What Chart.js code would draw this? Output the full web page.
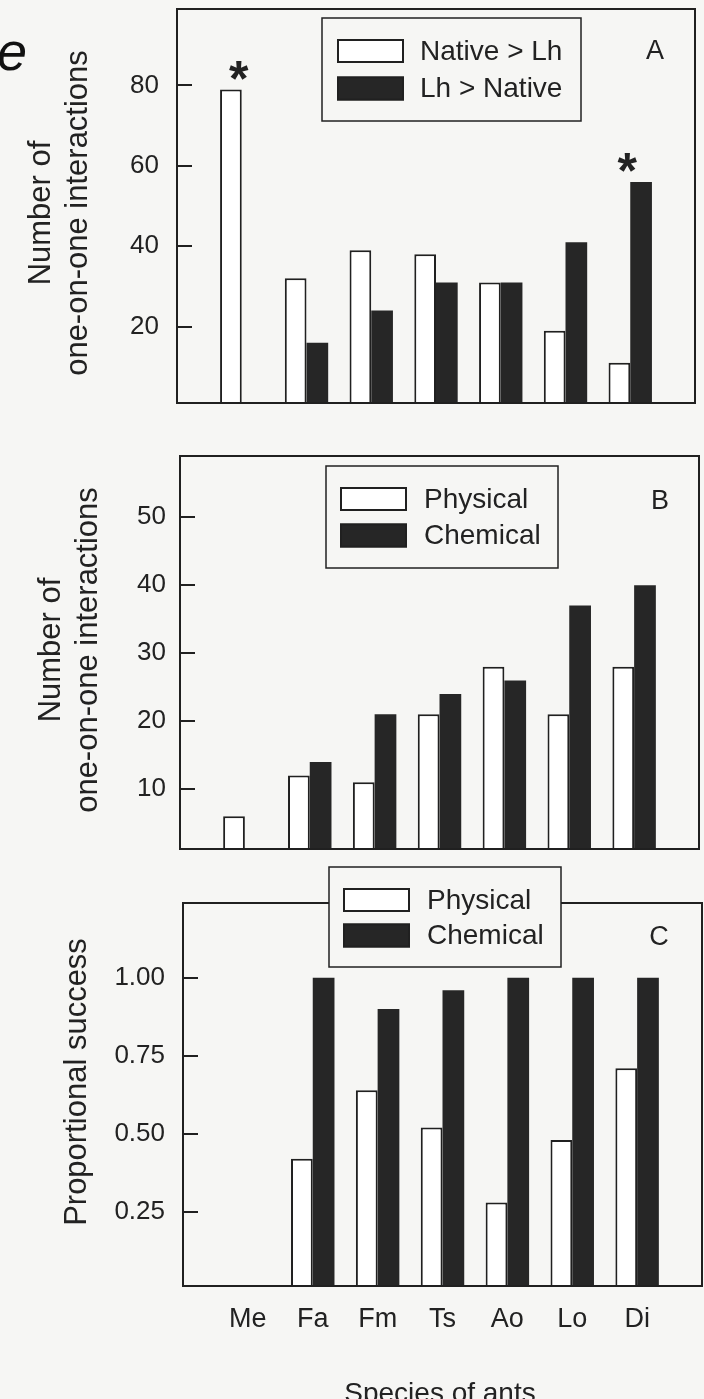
<!DOCTYPE html>
<html><head><meta charset="utf-8">
<script src="https://cdn.jsdelivr.net/npm/chart.js@4.4.0/dist/chart.umd.min.js"></script>
<style>
html,body{margin:0;padding:0;background:#f6f6f4;}
body{width:704px;height:1399px;position:relative;overflow:hidden;}
canvas{position:absolute;left:0;display:block;}
</style></head><body>
<canvas id="cA" width="704" height="440" style="top:0"></canvas>
<canvas id="cB" width="704" height="420" style="top:440px"></canvas>
<canvas id="cC" width="704" height="539" style="top:860px"></canvas>
<script>
// ---- data ----
const categories = ['Me','Fa','Fm','Ts','Ao','Lo','Di'];
const nativeOverLh = [79, 32, 39, 38, 31, 19, 11];
const lhOverNative = [null, 16, 24, 31, 31, 41, 56];
const significantA = [true, false, false, false, false, false, true];
const physicalCount = [6, 12, 11, 21, 28, 21, 28];
const chemicalCount = [null, 14, 21, 24, 26, 37, 40];
const physicalSuccess = [null, 0.42, 0.64, 0.52, 0.28, 0.48, 0.71];
const chemicalSuccess = [null, 1.00, 0.90, 0.96, 1.00, 1.00, 1.00];
const yTicksA = [20, 40, 60, 80];
const yTicksB = [10, 20, 30, 40, 50];
const yTicksC = [0.25, 0.50, 0.75, 1.00];
const legendA = ['Native > Lh', 'Lh > Native'];
const legendBC = ['Physical', 'Chemical'];
const yTitleA = ['Number of', 'one-on-one interactions'];
const yTitleB = ['Number of', 'one-on-one interactions'];
const yTitleC = ['Proportional success'];
const xTitle = 'Species of ants';

// ---- style ----
const BG = '#f6f6f4', INK = '#202020', TXT = '#222222', DARK = '#262626';
const FONT = '"Liberation Sans", Arial, Helvetica, sans-serif';

const labels = ['', ...categories, ''];
const pad = arr => [null, ...arr, null];
const noPad = s => { s.paddingTop = 0; s.paddingBottom = 0; s.paddingLeft = 0; s.paddingRight = 0; };

const panelPlugin = {
  id: 'panel',
  afterDatasetsDraw(chart, args, o) {
    const {ctx, chartArea: a} = chart;
    const ys = chart.scales.y, xs = chart.scales.x;
    ctx.save();
    // frame
    ctx.strokeStyle = INK; ctx.lineWidth = 2;
    ctx.strokeRect(a.left, a.top, a.right - a.left, a.bottom - a.top);
    // inward ticks
    ys.ticks.forEach(t => {
      const py = Math.round(ys.getPixelForValue(t.value));
      ctx.beginPath(); ctx.moveTo(a.left, py); ctx.lineTo(a.left + o.tickLen, py); ctx.stroke();
    });
    // significance marks
    if (o.marks) {
      ctx.fillStyle = TXT;
      ctx.font = 'bold 50px ' + FONT;
      ctx.textAlign = 'center'; ctx.textBaseline = 'alphabetic';
      const m = ctx.measureText('*');
      o.marks.forEach((on, i) => {
        if (!on) return;
        const vals = chart.data.datasets.map(d => d.data[i + 1]).filter(v => v != null);
        const top = ys.getPixelForValue(Math.max(...vals));
        const cx = xs.getPixelForValue(i + 1) - 3;
        const cy = top - 19;
        const base = cy + (m.actualBoundingBoxAscent - m.actualBoundingBoxDescent) / 2;
        ctx.fillText('*', cx, base);
      });
    }
    // legend
    const L = o.legend;
    ctx.fillStyle = BG;
    ctx.fillRect(L.box[0], L.box[1], L.box[2] - L.box[0], L.box[3] - L.box[1]);
    ctx.lineWidth = 1.5; ctx.strokeStyle = INK;
    ctx.strokeRect(L.box[0], L.box[1], L.box[2] - L.box[0], L.box[3] - L.box[1]);
    ctx.font = '28px ' + FONT; ctx.textAlign = 'left'; ctx.textBaseline = 'middle';
    chart.data.datasets.forEach((d, i) => {
      const yy = L.rows[i];
      ctx.fillStyle = d.backgroundColor;
      ctx.fillRect(L.swatchX, yy - 12, 67, 24);
      ctx.lineWidth = 2; ctx.strokeStyle = INK;
      ctx.strokeRect(L.swatchX + 1, yy - 11, 65, 22);
      ctx.fillStyle = TXT;
      ctx.fillText(d.label, L.textX, yy + 1);
    });
    // panel letter
    ctx.font = '27px ' + FONT; ctx.textAlign = 'center'; ctx.textBaseline = 'middle';
    ctx.fillStyle = TXT;
    ctx.fillText(o.letter[0], o.letter[1], o.letter[2]);
    // y title
    ctx.font = '31px ' + FONT;
    o.yTitle.text.forEach((line, i) => {
      ctx.save();
      ctx.translate(o.yTitle.x[i], o.yTitle.cy);
      ctx.rotate(-Math.PI / 2);
      ctx.textAlign = 'center'; ctx.textBaseline = 'middle';
      ctx.fillText(line, 0, 0);
      ctx.restore();
    });
    // x title
    if (o.xTitle) {
      ctx.font = '28px ' + FONT; ctx.textAlign = 'center'; ctx.textBaseline = 'alphabetic';
      ctx.fillText(o.xTitle.text, o.xTitle.x, o.xTitle.y);
    }
    // stray letter at the corner
    if (o.corner) {
      ctx.font = 'italic 54px ' + FONT; ctx.textAlign = 'left'; ctx.textBaseline = 'alphabetic';
      ctx.fillStyle = '#111';
      ctx.fillText(o.corner, -3, 70);
    }
    ctx.restore();
  }
};

function makeChart(id, cfg) {
  const datasets = [
    {label: cfg.names[0], data: pad(cfg.s1), backgroundColor: '#ffffff', borderColor: INK, borderWidth: 2},
    {label: cfg.names[1], data: pad(cfg.s2), backgroundColor: DARK, borderColor: DARK, borderWidth: 0}
  ];
  return new Chart(document.getElementById(id), {
    type: 'bar',
    data: {labels, datasets},
    plugins: [panelPlugin],
    options: {
      responsive: false, animation: false, events: [],
      devicePixelRatio: 1,
      layout: {padding: cfg.padding},
      datasets: {bar: {categoryPercentage: 0.67, barPercentage: 1.0}},
      plugins: {
        legend: {display: false}, tooltip: {enabled: false},
        panel: cfg.panel
      },
      scales: {
        x: {
          type: 'category', offset: false,
          display: cfg.showX,
          grid: {display: false, drawTicks: false},
          border: {display: false},
          ticks: {color: TXT, font: {family: FONT, size: 27}, padding: 17, maxRotation: 0, autoSkip: false},
          afterFit: s => { if (cfg.xHeight) s.height = cfg.xHeight; noPad(s); }
        },
        y: {
          min: cfg.min, max: cfg.max,
          grid: {display: false, drawTicks: false},
          border: {display: false},
          ticks: {color: TXT, font: {family: FONT, size: 26}, padding: cfg.tickPad,
                  callback: v => cfg.fmt(v)},
          afterBuildTicks: s => { s.ticks = cfg.ticks.map(v => ({value: v})); },
          afterFit: s => { s.width = cfg.left; noPad(s); }
        }
      }
    }
  });
}

makeChart('cA', {
  names: legendA, s1: nativeOverLh, s2: lhOverNative,
  min: 1, max: 99, ticks: yTicksA, fmt: v => String(v), tickPad: 18,
  left: 177, padding: {top: 9, right: 9, bottom: 37, left: 0}, showX: false,
  panel: {
    tickLen: 15, marks: significantA,
    legend: {box: [322, 18, 581, 121], swatchX: 337, rows: [51, 88.5], textX: 420},
    letter: ['A', 655, 52],
    yTitle: {text: yTitleA, x: [41, 78.5], cy: 213},
    corner: 'e'
  }
});

makeChart('cB', {
  names: legendBC, s1: physicalCount, s2: chemicalCount,
  min: 1.2, max: 59, ticks: yTicksB, fmt: v => String(v), tickPad: 14,
  left: 180, padding: {top: 16, right: 5, bottom: 11, left: 0}, showX: false,
  panel: {
    tickLen: 15,
    legend: {box: [326, 26, 558, 128], swatchX: 340, rows: [59, 95.5], textX: 424},
    letter: ['B', 660, 62],
    yTitle: {text: yTitleB, x: [51, 88], cy: 210}
  }
});

makeChart('cC', {
  names: legendBC, s1: physicalSuccess, s2: chemicalSuccess,
  min: 0.012, max: 1.24, ticks: yTicksC, fmt: v => v.toFixed(2), tickPad: 18,
  left: 183, padding: {top: 43, right: 2, bottom: 0, left: 0}, showX: true, xHeight: 113,
  panel: {
    tickLen: 15,
    legend: {box: [329, 7, 561, 107], swatchX: 343, rows: [40, 75.5], textX: 427},
    letter: ['C', 659, 78],
    yTitle: {text: yTitleC, x: [77], cy: 222},
    xTitle: {text: xTitle, x: 440, y: 542}
  }
});
</script>
</body></html>
